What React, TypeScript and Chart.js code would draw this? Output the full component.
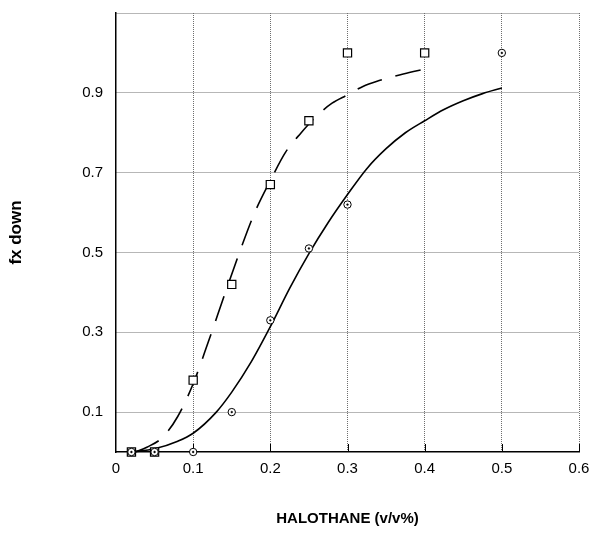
import React, { useEffect, useRef } from 'react';
import { Chart, registerables } from 'chart.js';

Chart.register(...registerables);

// Axis ticks
const xTickValues = [0, 0.1, 0.2, 0.3, 0.4, 0.5, 0.6];
const xTickLabels = ['0', '0.1', '0.2', '0.3', '0.4', '0.5', '0.6'];
const yTickValues = [0, 0.1, 0.3, 0.5, 0.7, 0.9, 1.1];
const yTickLabels = ['', '0.1', '0.3', '0.5', '0.7', '0.9', ''];

// Measured data (squares)
const squareX = [0.02, 0.05, 0.1, 0.15, 0.2, 0.25, 0.3, 0.4];
const squareY = [0, 0, 0.18, 0.42, 0.67, 0.83, 1.0, 1.0];

// Measured data (circles)
const circleX = [0.02, 0.05, 0.1, 0.15, 0.2, 0.25, 0.3, 0.5];
const circleY = [0, 0, 0, 0.1, 0.33, 0.51, 0.62, 1.0];

// Fitted curve through circles (solid)
const solidFitX = [0.02, 0.05, 0.08, 0.1, 0.13, 0.15, 0.175, 0.2, 0.225, 0.25, 0.275, 0.3, 0.325, 0.35, 0.375, 0.4, 0.425, 0.45, 0.475, 0.5];
const solidFitY = [0, 0.008, 0.027, 0.047, 0.1, 0.15, 0.225, 0.314, 0.41, 0.497, 0.575, 0.645, 0.71, 0.76, 0.8, 0.83, 0.858, 0.88, 0.898, 0.912];

// Fitted curve through squares (dashed)
const dashedFitX = [0.025, 0.04, 0.06, 0.08, 0.1, 0.12, 0.14, 0.16, 0.18, 0.2, 0.22, 0.24, 0.26, 0.28, 0.3, 0.32, 0.34, 0.36, 0.38, 0.4];
const dashedFitY = [0, 0.012, 0.036, 0.089, 0.171, 0.278, 0.39, 0.5, 0.601, 0.68, 0.752, 0.8, 0.842, 0.874, 0.895, 0.916, 0.93, 0.941, 0.951, 0.959];

const zip = (xs: number[], ys: number[]) => xs.map((x, i) => ({ x, y: ys[i] }));

const FONT = "'Liberation Sans', Arial, Helvetica, sans-serif";

const innerTicks = {
  id: 'innerTicks',
  beforeDatasetsDraw(chart: any) {
    const { ctx, chartArea, scales } = chart;
    const xs = scales.x;
    ctx.save();
    ctx.strokeStyle = '#000';
    ctx.lineWidth = 1;
    xTickValues.forEach((v) => {
      if (v === 0) return;
      const px = Math.round(xs.getPixelForValue(v)) + 0.5;
      ctx.beginPath();
      ctx.moveTo(px, chartArea.bottom);
      ctx.lineTo(px, chartArea.bottom - 8);
      ctx.stroke();
    });
    ctx.restore();
  },
};

export default function App() {
  const ref = useRef<HTMLCanvasElement>(null);

  useEffect(() => {
    if (!ref.current) return;
    const chart = new Chart(ref.current, {
      type: 'scatter',
      data: {
        datasets: [
          {
            label: 'circle dots',
            data: zip(circleX, circleY),
            pointStyle: 'circle',
            pointRadius: 0.9,
            pointBackgroundColor: '#000',
            pointBorderColor: '#000',
            pointBorderWidth: 0.5,
            showLine: false,
            clip: false,
            order: 0,
          } as any,
          {
            label: 'circles',
            data: zip(circleX, circleY),
            pointStyle: 'circle',
            pointRadius: 3.7,
            pointBackgroundColor: '#fff',
            pointBorderColor: '#000',
            pointBorderWidth: 1,
            showLine: false,
            clip: false,
            order: 1,
          } as any,
          {
            label: 'squares',
            data: zip(squareX, squareY),
            pointStyle: 'rect',
            pointRadius: 5.8,
            pointBackgroundColor: '#fff',
            pointBorderColor: '#000',
            pointBorderWidth: 1.2,
            showLine: false,
            clip: false,
            order: 2,
          } as any,
          {
            label: 'fit circles',
            data: zip(solidFitX, solidFitY),
            showLine: true,
            pointRadius: 0,
            borderColor: '#000',
            borderWidth: 1.6,
            cubicInterpolationMode: 'monotone',
            clip: false,
            order: 3,
          } as any,
          {
            label: 'fit squares',
            data: zip(dashedFitX, dashedFitY),
            showLine: true,
            pointRadius: 0,
            borderColor: '#000',
            borderWidth: 1.6,
            borderDash: [26, 14],
            cubicInterpolationMode: 'monotone',
            clip: false,
            order: 4,
          } as any,
        ],
      },
      options: {
        animation: false,
        responsive: false,
        maintainAspectRatio: false,
        layout: { padding: { top: 13, right: 21, left: 0, bottom: 0 } },
        plugins: {
          legend: { display: false },
          tooltip: { enabled: false },
        },
        scales: {
          x: {
            type: 'linear',
            min: 0,
            max: 0.6,
            afterBuildTicks: (s: any) => {
              s.ticks = xTickValues.map((v) => ({ value: v }));
            },
            afterFit: (s: any) => {
              s.height = 534 - 452;
              s.paddingLeft = 0;
              s.paddingRight = 0;
            },
            ticks: {
              color: '#000',
              padding: 8,
              maxRotation: 0,
              autoSkip: false,
              font: { family: FONT, size: 15, lineHeight: 1.2 },
              callback: (v: any) => {
                const i = xTickValues.findIndex((t) => Math.abs(t - v) < 1e-9);
                return i >= 0 ? xTickLabels[i] : '';
              },
            },
            grid: {
              drawTicks: false,
              lineWidth: 1,
              color: (c: any) => (c.tick && Math.abs(c.tick.value) < 1e-9 ? 'rgba(0,0,0,0)' : '#6e6e6e'),
            },
            border: { display: true, color: '#000', width: 1.5, dash: [1, 1] },
            title: {
              display: true,
              text: 'HALOTHANE (v/v%)',
              color: '#000',
              font: { family: FONT, size: 15, weight: 'bold', lineHeight: 1.2 },
              padding: { top: 0, bottom: 6 },
            },
          } as any,
          y: {
            type: 'linear',
            min: 0,
            max: 1.1,
            afterBuildTicks: (s: any) => {
              s.ticks = yTickValues.map((v) => ({ value: v }));
            },
            afterFit: (s: any) => {
              s.width = 116;
              s.paddingTop = 0;
              s.paddingBottom = 0;
            },
            ticks: {
              color: '#000',
              padding: 13,
              autoSkip: false,
              font: { family: FONT, size: 15, lineHeight: 1.2 },
              callback: (v: any) => {
                const i = yTickValues.findIndex((t) => Math.abs(t - v) < 1e-9);
                return i >= 0 ? yTickLabels[i] : '';
              },
            },
            grid: {
              drawTicks: false,
              lineWidth: 1,
              color: (c: any) => (c.tick && Math.abs(c.tick.value) < 1e-9 ? 'rgba(0,0,0,0)' : '#6e6e6e'),
            },
            border: { display: true, color: '#000', width: 1.5, dash: [1, 1] },
            title: {
              display: true,
              text: 'fx down',
              color: '#000',
              font: { family: FONT, size: 17, weight: 'bold', lineHeight: 1.2 },
              padding: { top: 6, bottom: 0 },
            },
          } as any,
        },
      },
      plugins: [innerTicks],
    });
    return () => chart.destroy();
  }, []);

  return (
    <div style={{ position: 'fixed', left: 0, top: 0, width: 600, height: 534, background: '#fff' }}>
      <canvas ref={ref} width={600} height={534} style={{ width: 600, height: 534 }} />
    </div>
  );
}
